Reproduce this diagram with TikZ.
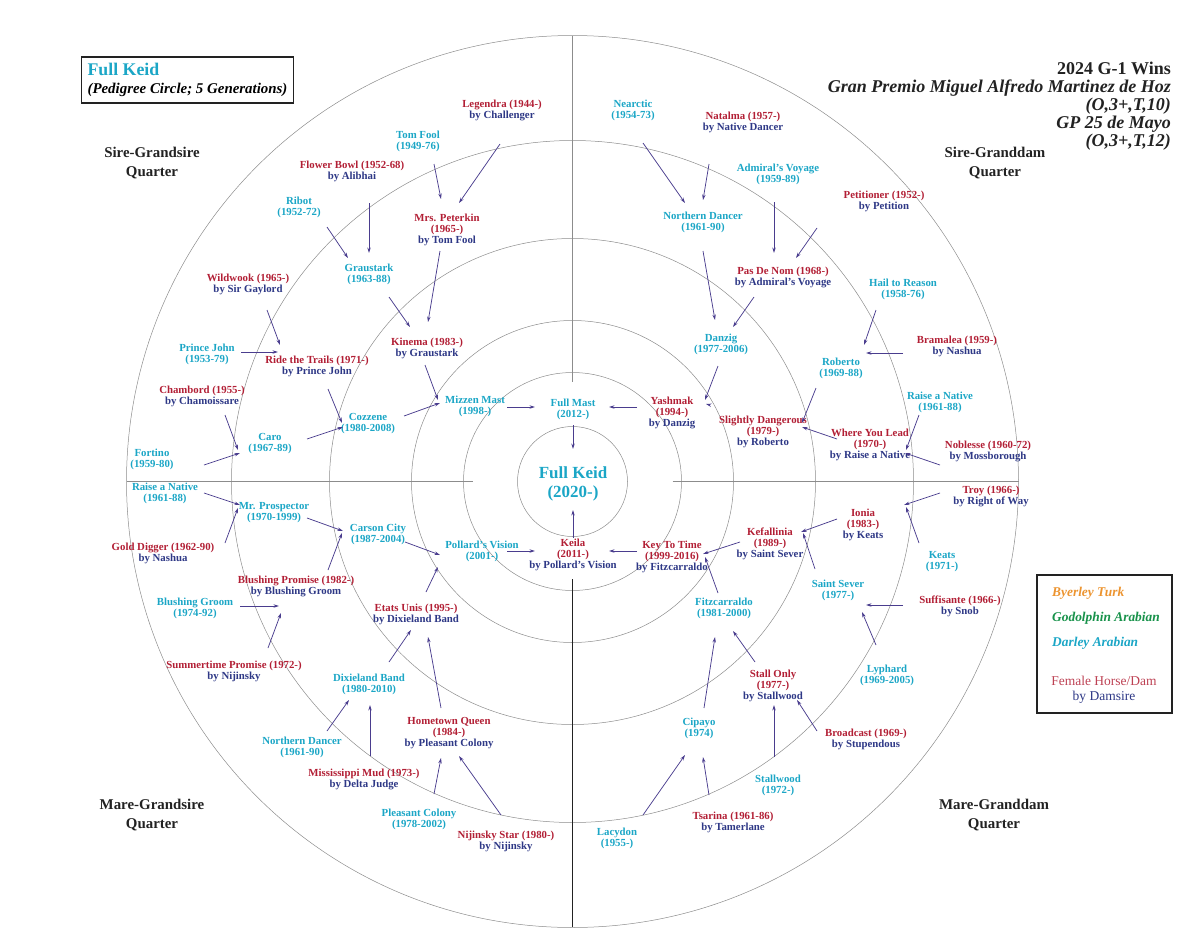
\documentclass[tikz,border=0pt]{standalone}
\usepackage{fontspec}
\setmainfont{Liberation Serif}
\usetikzlibrary{arrows.meta}

\definecolor{darley}{HTML}{1BA6C6}
\definecolor{damred}{HTML}{B21F35}
\definecolor{damsire}{HTML}{2E3886}
\definecolor{linkc}{HTML}{4A3D8E}
\definecolor{byerley}{HTML}{EC9430}
\definecolor{godolphin}{HTML}{17924A}
\definecolor{ringc}{HTML}{8C8C8C}
\definecolor{ink}{HTML}{222222}
\newcommand\dam[1]{\textcolor{damred}{#1}}

\begin{document}
\begin{tikzpicture}[x=1pt,y=-1pt,
horse/.style={font=\fontsize{10.8}{11}\selectfont\bfseries,text=darley,align=center,inner sep=0pt},
mare/.style={horse,text=damsire},
link/.style={draw=linkc,line width=0.75pt,-{Stealth[length=5.5pt,width=3.4pt]}},
ring/.style={draw=ringc,line width=0.5pt},
quarter/.style={font=\fontsize{14.9}{19}\selectfont\bfseries,text=ink,align=center,inner sep=0pt},
key/.style={font=\fontsize{13.4}{15}\selectfont\bfseries\itshape,anchor=west,inner sep=0pt}]

\useasboundingbox (0,0) rectangle (1200,927);
\coordinate (hub) at (572.5,481.5);
\foreach \r in {55,109,161,243,341,446} \draw[ring] (hub) circle[radius=\r pt];
\draw[ring] (hub) ++(0,-446) -- ++(0,346) (hub) ++(-446,0) -- ++(346,0) (hub) ++(100,0) -- ++(346,0);
\draw[line width=1.5pt,ink] (hub) ++(0,97.5) -- (572.5,927);

% titles
\node[draw=ink,line width=1.2pt,align=left,inner xsep=6pt,minimum height=46pt,
  font=\fontsize{14.9}{18}\selectfont\bfseries] (title) at (187.5,80)
  {{\fontsize{17.8}{18}\selectfont\textcolor{darley}{Full Keid}}\\\itshape(Pedigree Circle; 5 Generations)};
\node[anchor=north east,align=right,inner sep=0pt,font=\fontsize{18}{18}\selectfont\bfseries,text=ink] (wins) at (1171,62)
  {2024 G-1 Wins\\\itshape Gran Premio Miguel Alfredo Martinez de Hoz\\\itshape(O,3+,T,10)\\\itshape GP 25 de Mayo\\\itshape(O,3+,T,12)};
\node[quarter] (sgq) at (152,163) {Sire-Grandsire\\Quarter};
\node[quarter] (sdq) at (995,163) {Sire-Granddam\\Quarter};
\node[quarter] (mgq) at (152,815) {Mare-Grandsire\\Quarter};
\node[quarter] (mdq) at (994,815) {Mare-Granddam\\Quarter};

% legend
\node[draw=ink,line width=1.2pt,minimum width=135pt,minimum height=138pt,inner sep=0pt] (legend) at (1104.5,644) {};
\node[key,text=byerley] (byerley) at (1052,593) {Byerley Turk};
\node[key,text=godolphin] (godolphin) at (1052,618) {Godolphin Arabian};
\node[key,text=darley] (darleykey) at (1052,643) {Darley Arabian};
\node[font=\fontsize{13.5}{15.5}\selectfont,align=center,text=damsire,inner sep=0pt] (femkey) at (1104,690) {\textcolor{damred!85}{Female Horse/Dam}\\by Damsire};

% horses
\node[horse,font=\fontsize{17}{19}\selectfont\bfseries] (keid) at (573,483.5) {Full Keid\\(2020-)};
\node[horse] (fmast) at (573,409.5) {Full Mast\\(2012-)};
\node[mare] (keila) at (573,554.5) {\dam{Keila}\\\dam{(2011-)}\\by Pollard's Vision};
\node[horse] (mizzen) at (475,406.5) {Mizzen Mast\\(1998-)};
\node[mare] (yashmak) at (672,412.5) {\dam{Yashmak}\\\dam{(1994-)}\\by Danzig};
\node[horse] (pollard) at (482,551.5) {Pollard's Vision\\(2001-)};
\node[mare] (keytime) at (672,557) {\dam{Key To Time}\\\dam{(1999-2016)}\\by Fitzcarraldo};
\node[mare] (kinema) at (427,348) {\dam{Kinema (1983-)}\\by Graustark};
\node[horse] (cozzene) at (368,424) {Cozzene\\(1980-2008)};
\node[horse] (danzig) at (721,344) {Danzig\\(1977-2006)};
\node[mare] (slightly) at (763,432) {\dam{Slightly Dangerous}\\\dam{(1979-)}\\by Roberto};
\node[horse] (carson) at (378,534.5) {Carson City\\(1987-2004)};
\node[mare] (etats) at (416,614.5) {\dam{Etats Unis (1995-)}\\by Dixieland Band};
\node[horse] (fitz) at (724,608.5) {Fitzcarraldo\\(1981-2000)};
\node[mare] (kefal) at (770,543.5) {\dam{Kefallinia}\\\dam{(1989-)}\\by Saint Sever};
\node[mare] (peterkin) at (447,230) {\dam{Mrs. Peterkin}\\\dam{(1965-)}\\by Tom Fool};
\node[horse] (graustark) at (369,274.5) {Graustark\\(1963-88)};
\node[mare] (trails) at (317,366) {\dam{Ride the Trails (1971-)}\\by Prince John};
\node[horse] (caro) at (270,444) {Caro\\(1967-89)};
\node[horse] (ndancer) at (703,222) {Northern Dancer\\(1961-90)};
\node[mare] (pasdenom) at (783,277.5) {\dam{Pas De Nom (1968-)}\\by Admiral's Voyage};
\node[horse] (roberto) at (841,368.5) {Roberto\\(1969-88)};
\node[mare] (wylead) at (870,445) {\dam{Where You Lead}\\\dam{(1970-)}\\by Raise a Native};
\node[horse] (prospector) at (274,512.5) {Mr. Prospector\\(1970-1999)};
\node[mare] (bpromise) at (296,586.5) {\dam{Blushing Promise (1982-)}\\by Blushing Groom};
\node[horse] (dixie) at (369,684.5) {Dixieland Band\\(1980-2010)};
\node[mare] (hometown) at (449,733) {\dam{Hometown Queen}\\\dam{(1984-)}\\by Pleasant Colony};
\node[horse] (cipayo) at (699,728.5) {Cipayo\\(1974)};
\node[mare] (stallonly) at (773,685.5) {\dam{Stall Only}\\\dam{(1977-)}\\by Stallwood};
\node[horse] (saintsever) at (838,590.5) {Saint Sever\\(1977-)};
\node[mare] (ionia) at (863,525) {\dam{Ionia}\\\dam{(1983-)}\\by Keats};
\node[mare] (legendra) at (502,110.5) {\dam{Legendra (1944-)}\\by Challenger};
\node[horse] (tomfool) at (418,141.5) {Tom Fool\\(1949-76)};
\node[mare] (flowerbowl) at (352,171) {\dam{Flower Bowl (1952-68)}\\by Alibhai};
\node[horse] (ribot) at (299,207.5) {Ribot\\(1952-72)};
\node[mare] (wildwook) at (248,284.5) {\dam{Wildwook (1965-)}\\by Sir Gaylord};
\node[horse] (princejohn) at (207,354.5) {Prince John\\(1953-79)};
\node[mare] (chambord) at (202,396) {\dam{Chambord (1955-)}\\by Chamoissare};
\node[horse] (fortino) at (152,459.5) {Fortino\\(1959-80)};
\node[horse] (nearctic) at (633,110.5) {Nearctic\\(1954-73)};
\node[mare] (natalma) at (743,122.5) {\dam{Natalma (1957-)}\\by Native Dancer};
\node[horse] (admiral) at (778,174) {Admiral's Voyage\\(1959-89)};
\node[mare] (petitioner) at (884,201) {\dam{Petitioner (1952-)}\\by Petition};
\node[horse] (hailreason) at (903,289.5) {Hail to Reason\\(1958-76)};
\node[mare] (bramalea) at (957,346.5) {\dam{Bramalea (1959-)}\\by Nashua};
\node[horse] (raisenative) at (940,402) {Raise a Native\\(1961-88)};
\node[mare] (noblesse) at (988,451.5) {\dam{Noblesse (1960-72)}\\by Mossborough};
\node[horse] (raiseleft) at (165,493.5) {Raise a Native\\(1961-88)};
\node[mare] (golddigger) at (163,553.5) {\dam{Gold Digger (1962-90)}\\by Nashua};
\node[horse] (bgroom) at (195,608) {Blushing Groom\\(1974-92)};
\node[mare] (summertime) at (234,671) {\dam{Summertime Promise (1972-)}\\by Nijinsky};
\node[horse] (ndancerleft) at (302,747.5) {Northern Dancer\\(1961-90)};
\node[mare] (mississippi) at (364,779.5) {\dam{Mississippi Mud (1973-)}\\by Delta Judge};
\node[horse] (pleasant) at (419,819.5) {Pleasant Colony\\(1978-2002)};
\node[mare] (nijinsky) at (506,841) {\dam{Nijinsky Star (1980-)}\\by Nijinsky};
\node[horse] (lacydon) at (617,838.5) {Lacydon\\(1955-)};
\node[mare] (tsarina) at (733,822.5) {\dam{Tsarina (1961-86)}\\by Tamerlane};
\node[horse] (stallwood) at (778,785) {Stallwood\\(1972-)};
\node[mare] (broadcast) at (866,739) {\dam{Broadcast (1969-)}\\by Stupendous};
\node[horse] (lyphard) at (887,675.5) {Lyphard\\(1969-2005)};
\node[mare] (suffisante) at (960,606.5) {\dam{Suffisante (1966-)}\\by Snob};
\node[horse] (keats) at (942,561.5) {Keats\\(1971-)};
\node[mare] (troy) at (991,496) {\dam{Troy (1966-)}\\by Right of Way};

% parent -> child
\foreach \a/\ax/\ay/\b/\bx/\by in {legendra/-2/33.5/peterkin/12/-27, tomfool/16/22.5/peterkin/-6/-31,
  flowerbowl/17/32/graustark/0/-21.5, ribot/28/19.5/graustark/-21/-16.5,
  peterkin/-7/21/kinema/1/-26, graustark/20/22.5/kinema/-17/-21,
  wildwook/19/25.5/trails/-37/-21, princejohn/34/-2.5/trails/-39/-14,
  kinema/-2/17/mizzen/-37/-6.5, trails/11/23/cozzene/-26/-1,
  cozzene/36/-8/mizzen/-35/-3.5, chambord/23/19/caro/-32/6,
  fortino/52/5.5/caro/-30/9, caro/37/-5/cozzene/-25/3,
  mizzen/32/0.5/fmast/-38/-2.5, yashmak/-35/-5.5/fmast/36/-2.5,
  fmast/0/15.5/keid/0/-34.5, keila/0/-16.5/keid/0/26.5,
  pollard/25/-0.5/keila/-38/-3.5, keytime/-35/-6/keila/36/-3.5,
  nearctic/10/32.5/ndancer/-18/-19, natalma/-34/41.5/ndancer/0/-22,
  admiral/-4/28/pasdenom/-9/-24.5, petitioner/-67/27/pasdenom/13/-19.5,
  ndancer/0/29/danzig/-6/-24, pasdenom/-29/19.5/danzig/12/-17,
  danzig/-3/22/yashmak/33/-12.5, slightly/-53/-27/yashmak/34/-8.5,
  hailreason/-27/20.5/roberto/23/-23.5, bramalea/-54/6.5/roberto/25/-15.5,
  roberto/-25/19.5/slightly/39/-9, wylead/-33/-6/slightly/39/-5,
  raisenative/-21/13/wylead/36/5, noblesse/-48/13.5/wylead/35/8,
  raiseleft/39/-0.5/prospector/-34/-7.5, golddigger/62/-10.5/prospector/-36/-4.5,
  prospector/33/5.5/carson/-35/-3.5, bpromise/32/-16.5/carson/-36/-1.5,
  carson/27/7.5/pollard/-42/3.5, etats/10/-22.5/pollard/-44/15.5,
  bgroom/45/-2/bpromise/-17/19.5, summertime/34/-23/bpromise/-15/26.5,
  dixie/20/-22.5/etats/-5/15.5, hometown/-8/-25/etats/12/22.5,
  ndancerleft/25/-16.5/dixie/-20/15.5, mississippi/6/-23.5/dixie/1/20.5,
  pleasant/15/-25.5/hometown/-8/25, nijinsky/-5/-26/hometown/10/23,
  fitz/-6/-15.5/keytime/33/0, kefal/-30/-1.5/keytime/31/-3,
  ionia/-26/-6/kefal/31/-11.5, saintsever/-23/-21.5/kefal/33/-10.5,
  troy/-51/-3/ionia/41/-20, keats/-23/-18.5/ionia/43/-18,
  suffisante/-57/-1.5/saintsever/28/14.5, lyphard/-11/-30.5/saintsever/24/21.5,
  cipayo/5/-20.5/fitz/-9/28.5, stallonly/-18/-23.5/fitz/9/22.5,
  lacydon/26/-23.5/cipayo/-14/26.5, tsarina/-24/-27.5/cipayo/4/28.5,
  stallwood/-4/-28/stallonly/1/19.5, broadcast/-49/-8/stallonly/24/14.5}
  \draw[link] ([shift={(\ax,\ay)}]\a.center) -- ([shift={(\bx,\by)}]\b.center);
\end{tikzpicture}
\end{document}
